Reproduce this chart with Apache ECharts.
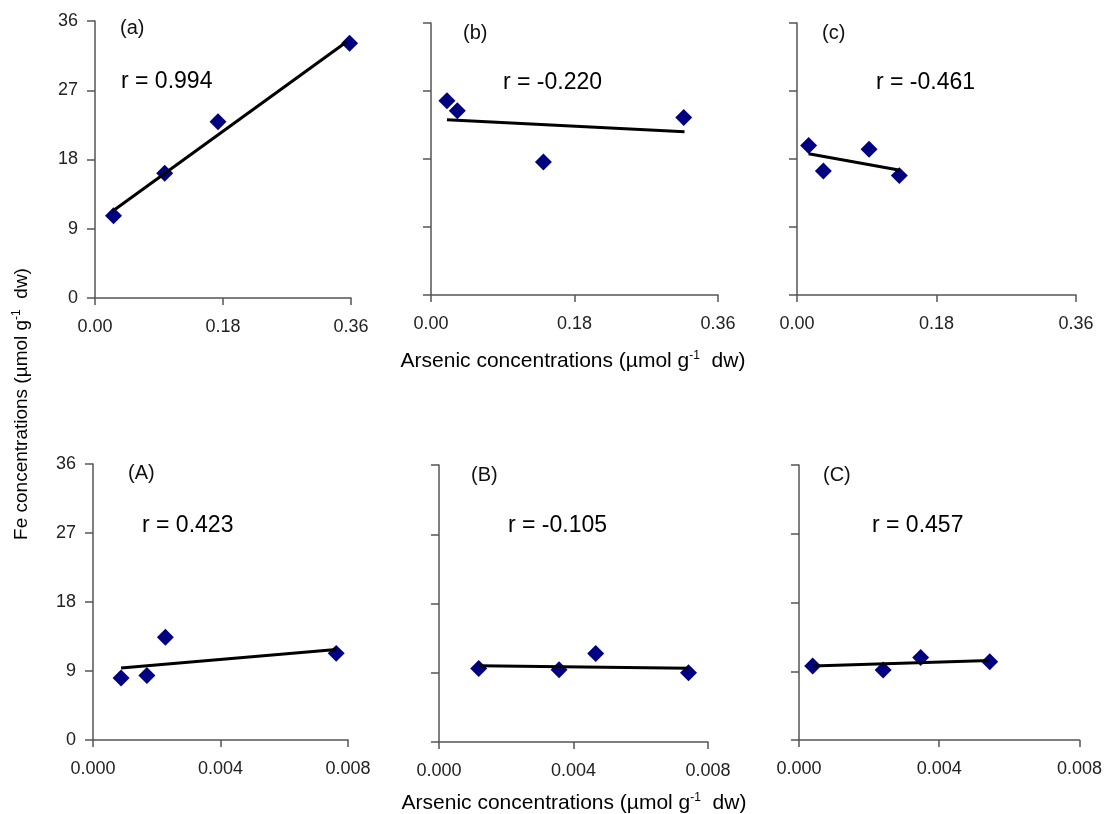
<!DOCTYPE html>
<html>
<head>
<meta charset="utf-8">
<script src="https://cdn.jsdelivr.net/npm/echarts@6/dist/echarts.min.js"></script>
<style>
  html, body { margin: 0; padding: 0; background: #fff; }
  #chart { width: 1105px; height: 814px; }
</style>
</head>
<body>
<div id="chart"></div>
<script>
  // panel titles and correlation text
  const panelNames = ['(a)', '(b)', '(c)', '(A)', '(B)', '(C)'];
  const rTexts = ['r = 0.994', 'r = -0.220', 'r = -0.461', 'r = 0.423', 'r = -0.105', 'r = 0.457'];

  // As (x) vs Fe (y)
  const asA = [0.026, 0.098, 0.173, 0.358];
  const feA = [10.7, 16.2, 22.9, 33.1];
  const asB = [0.020, 0.033, 0.141, 0.317];
  const feB = [25.7, 24.4, 17.6, 23.5];
  const asC = [0.015, 0.034, 0.093, 0.132];
  const feC = [19.8, 16.4, 19.3, 15.8];
  const asA2 = [0.00088, 0.00169, 0.00227, 0.00763];
  const feA2 = [8.1, 8.4, 13.4, 11.3];
  const asB2 = [0.00118, 0.00357, 0.00466, 0.00742];
  const feB2 = [9.55, 9.4, 11.5, 9.0];
  const asC2 = [0.00039, 0.0024, 0.00347, 0.00544];
  const feC2 = [9.7, 9.15, 10.8, 10.25];

  // trend line end points (x0, x1) / (y0, y1)
  const fitX = [[0.025, 0.354], [0.020, 0.318], [0.015, 0.133], [0.00088, 0.00763], [0.00118, 0.00742], [0.00039, 0.00544]];
  const fitY = [[11.3, 33.3], [23.2, 21.6], [18.7, 16.5], [9.4, 11.8], [9.9, 9.6], [9.7, 10.4]];

  const xMaxTop = 0.36, xStepTop = 0.18;
  const xMaxBot = 0.008, xStepBot = 0.004;
  const yMax = 36, yStep = 9;

  const xs = [asA, asB, asC, asA2, asB2, asC2];
  const ys = [feA, feB, feC, feA2, feB2, feC2];

  // grid boxes [left, top, width, height]
  const boxes = [
    [95, 21, 256, 277], [431, 23, 287, 272], [797, 23, 279, 272],
    [93, 464, 255, 276], [439, 465, 269, 277], [799, 465, 281, 275]
  ];
  const textPos = [
    [[120, 28], [121, 82]], [[463, 33], [503, 83]], [[822, 33], [876, 83]],
    [[128, 473], [142, 526]], [[471, 475], [508, 526]], [[823, 475], [872, 526]]
  ];

  const font = '"Liberation Sans", Arial, sans-serif';
  const axisColor = '#555';

  const grid = [], xAxis = [], yAxis = [], series = [], graphic = [];
  boxes.forEach((b, i) => {
    const top = i < 3;
    grid.push({ left: b[0], top: b[1], width: b[2], height: b[3] });
    xAxis.push({
      type: 'value', gridIndex: i, min: 0,
      max: top ? xMaxTop : xMaxBot, interval: top ? xStepTop : xStepBot,
      axisLine: { lineStyle: { color: axisColor, width: 1.5 } }, splitLine: { show: false },
      axisTick: { show: true, length: 7, lineStyle: { color: axisColor, width: 1.5 } },
      axisLabel: {
        color: '#222', fontSize: 18, fontFamily: font, margin: 20,
        formatter: v => v.toFixed(top ? 2 : 3)
      }
    });
    yAxis.push({
      type: 'value', gridIndex: i, min: 0, max: yMax, interval: yStep,
      axisLine: { show: true, lineStyle: { color: axisColor, width: 1.5 } }, splitLine: { show: false },
      axisTick: { show: true, length: 8, lineStyle: { color: axisColor, width: 1.5 } },
      axisLabel: { show: i % 3 === 0, color: '#222', fontSize: 18, fontFamily: font, margin: 17 }
    });
    series.push({
      type: 'scatter', xAxisIndex: i, yAxisIndex: i,
      symbol: 'rect', symbolSize: 12, symbolRotate: 45,
      itemStyle: { color: '#000080', opacity: 1 },
      data: xs[i].map((x, k) => [x, ys[i][k]])
    });
    series.push({
      type: 'line', xAxisIndex: i, yAxisIndex: i, showSymbol: false, z: 3,
      lineStyle: { color: '#000', width: 3 },
      data: fitX[i].map((x, k) => [x, fitY[i][k]])
    });
    graphic.push({
      type: 'text', x: textPos[i][0][0], y: textPos[i][0][1],
      style: { text: panelNames[i], font: '20px ' + font, fill: '#111', verticalAlign: 'middle' }
    });
    graphic.push({
      type: 'text', x: textPos[i][1][0], y: textPos[i][1][1],
      style: { text: rTexts[i], font: '23px ' + font, fill: '#000', verticalAlign: 'middle' }
    });
  });

  const unitRich = {
    n: { fontSize: 21, fontFamily: font, color: '#111' },
    s: { fontSize: 12, fontFamily: font, color: '#111', padding: [0, 0, 10, 0] }
  };
  const unitText = '{n|Arsenic concentrations (\u00b5mol g}{s|-1}{n|  dw)}';
  graphic.push({
    type: 'text', x: 573, y: 361,
    style: { text: unitText, rich: unitRich, align: 'center', verticalAlign: 'middle' }
  });
  graphic.push({
    type: 'text', x: 574, y: 803,
    style: { text: unitText, rich: unitRich, align: 'center', verticalAlign: 'middle' }
  });
  graphic.push({
    type: 'text', x: 22, y: 404, rotation: Math.PI / 2,
    style: {
      text: '{n|Fe concentrations (\u00b5mol g}{s|-1}{n|  dw)}',
      rich: {
        n: { fontSize: 19, fontFamily: font, color: '#111' },
        s: { fontSize: 12, fontFamily: font, color: '#111', padding: [0, 0, 10, 0] }
      },
      align: 'center', verticalAlign: 'middle'
    }
  });

  const myChart = echarts.init(document.getElementById('chart'));
  myChart.setOption({
    animation: false,
    grid: grid, xAxis: xAxis, yAxis: yAxis, series: series, graphic: graphic
  });
</script>
</body>
</html>
